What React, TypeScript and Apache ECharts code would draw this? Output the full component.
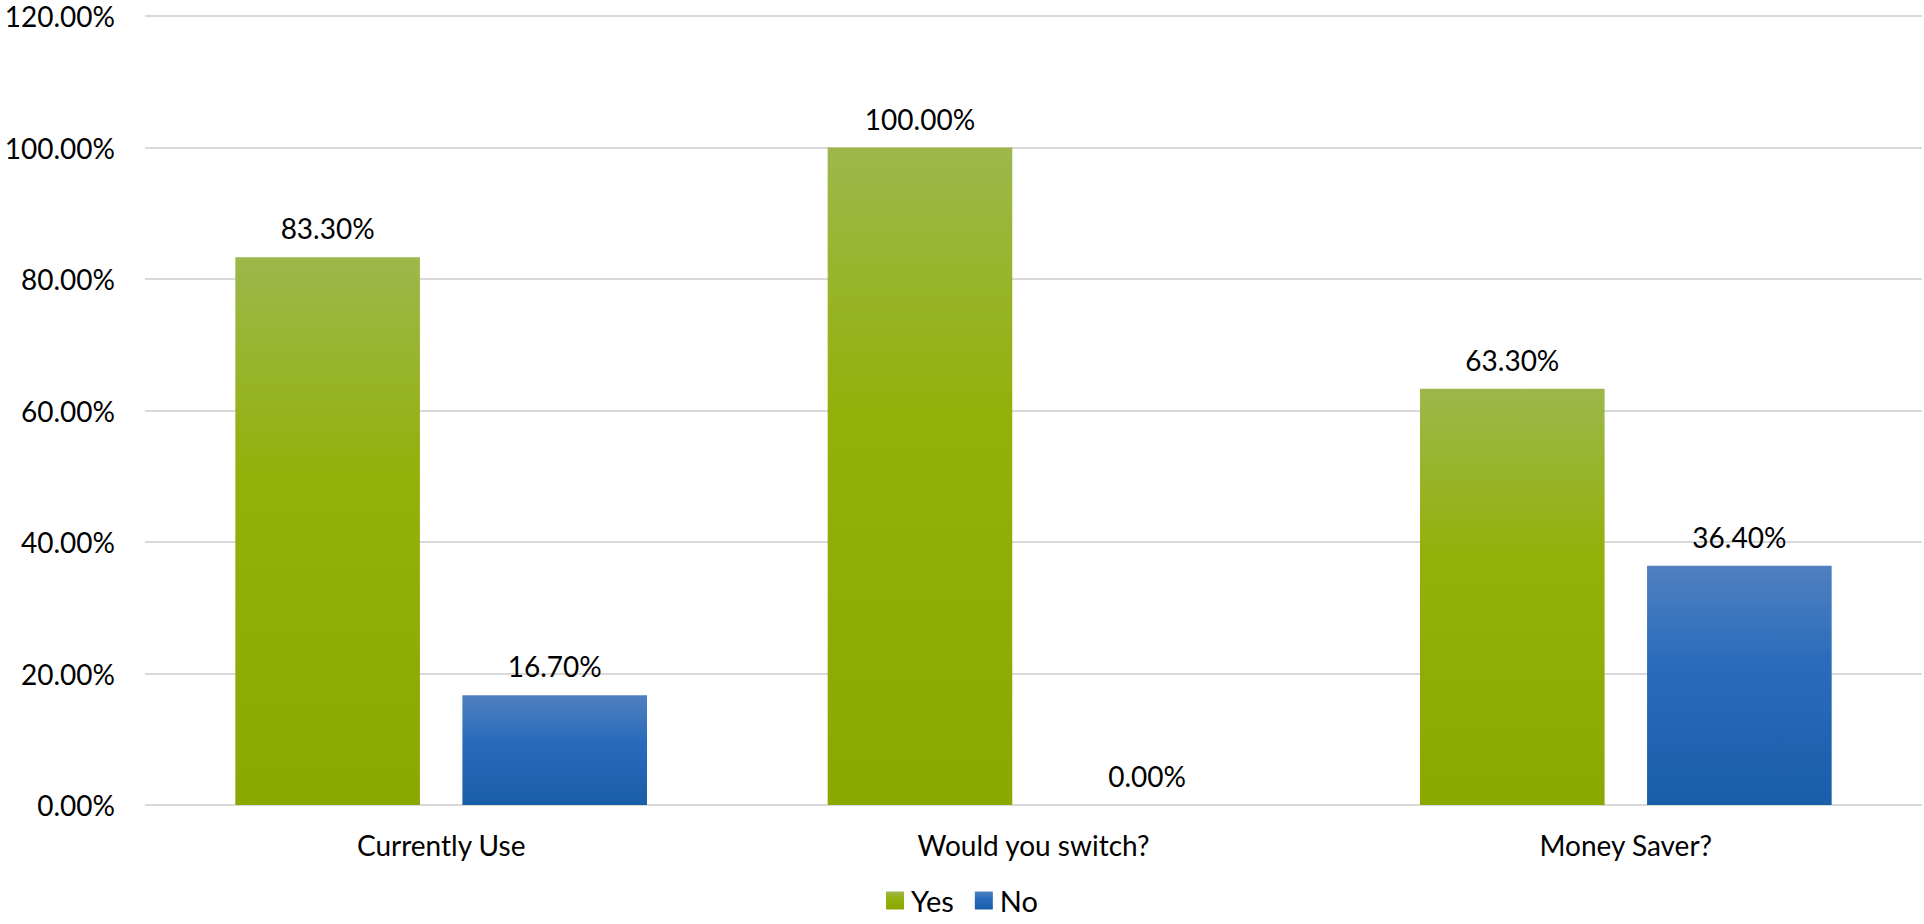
import React, { useEffect, useRef } from "react";
import * as echarts from "echarts";

const categories = ["Currently Use", "Would you switch?", "Money Saver?"];
const yesValues = [83.3, 100, 63.3];
const noValues = [16.7, 0, 36.4];
const seriesNames = ["Yes", "No"];

const FONT = "Lato, 'Open Sans', sans-serif";

export default function App() {
  const ref = useRef<HTMLDivElement>(null);
  useEffect(() => {
    if (!ref.current) return;
    const chart = echarts.init(ref.current, null, { renderer: "svg" });
    const green = new echarts.graphic.LinearGradient(0, 0, 0, 1, [
      { offset: 0, color: "#9EB74B" },
      { offset: 0.4, color: "#92B10A" },
      { offset: 1, color: "#89A800" },
    ]);
    const blue = new echarts.graphic.LinearGradient(0, 0, 0, 1, [
      { offset: 0, color: "#5080C0" },
      { offset: 0.4, color: "#2A6CBB" },
      { offset: 1, color: "#195EA9" },
    ]);
    const label = {
      show: true,
      position: "top" as const,
      distance: 15,
      color: "#000",
      fontFamily: FONT,
      fontSize: 28,
      formatter: (p: any) => Number(p.value).toFixed(2) + "%",
    };
    chart.setOption({
      animation: false,
      backgroundColor: "#fff",
      textStyle: { fontFamily: FONT },
      grid: { left: 145, right: 2, top: 16, bottom: 119, containLabel: false },
      legend: {
        data: seriesNames,
        top: 886,
        left: "center",
        padding: 0,
        itemWidth: 18,
        itemHeight: 18,
        itemGap: 21,
        icon: "rect",
        textStyle: {
          color: "#000",
          fontFamily: FONT,
          fontSize: 29,
          padding: [0, 0, 0, 2],
        },
      },
      xAxis: {
        type: "category",
        data: categories,
        axisLine: { show: false },
        axisTick: { show: false },
        axisLabel: { color: "#000", fontFamily: FONT, fontSize: 28, margin: 26 },
      },
      yAxis: {
        type: "value",
        min: 0,
        max: 120,
        interval: 20,
        axisLine: { show: false },
        axisTick: { show: false },
        splitLine: { lineStyle: { color: "#D9D9D9", width: 2 } },
        axisLabel: {
          color: "#000",
          fontFamily: FONT,
          fontSize: 28,
          margin: 30,
          formatter: (v: number) => v.toFixed(2) + "%",
        },
      },
      series: [
        {
          name: seriesNames[0],
          type: "bar",
          data: yesValues,
          barGap: "23%",
          barCategoryGap: "30.5%",
          itemStyle: { color: green },
          label,
        },
        {
          name: seriesNames[1],
          type: "bar",
          data: noValues,
          itemStyle: { color: blue },
          label,
        },
      ],
    });
    return () => chart.dispose();
  }, []);
  return (
    <div
      ref={ref}
      style={{ position: "fixed", left: 0, top: 0, width: 1924, height: 924, background: "#fff" }}
    />
  );
}
